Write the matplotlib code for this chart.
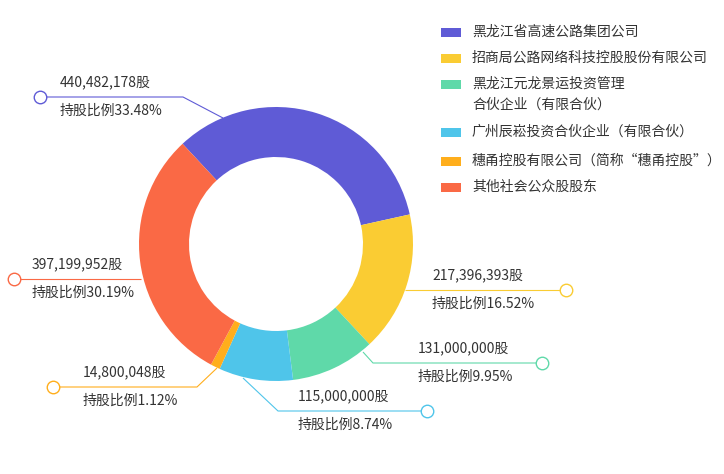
import matplotlib
matplotlib.use('Agg')
import matplotlib.pyplot as plt
from matplotlib.patches import Rectangle

plt.rcParams['font.family'] = ['Noto Sans CJK SC', 'DejaVu Sans']

# Shareholders, share counts and ratios
holders = ['黑龙江省高速公路集团公司', '招商局公路网络科技控股股份有限公司',
           '黑龙江元龙景运投资管理\n合伙企业（有限合伙）', '广州辰崧投资合伙企业（有限合伙）',
           '穗甬控股有限公司（简称“穗甬控股”）', '其他社会公众股股东']
shares = ['440,482,178', '217,396,393', '131,000,000', '115,000,000', '14,800,048', '397,199,952']
ratios = [33.48, 16.52, 9.95, 8.74, 1.12, 30.19]
colors = ['#5f5bd6', '#facc33', '#5fd9a9', '#4fc5ea', '#ffae1c', '#fa6945']

W, H = 724, 474
fig = plt.figure(figsize=(W / 100, H / 100), dpi=100)
ax = fig.add_axes([0, 0, 1, 1])

# donut (pixel coords, y down -> angles mirrored)
cx, cy, r_out, r_in = 276, 244, 137, 87
ax.pie(ratios, colors=colors, center=(cx, cy), radius=r_out,
       startangle=-133, counterclock=True,
       wedgeprops=dict(width=r_out - r_in, linewidth=0))
ax.set_xlim(0, W)
ax.set_ylim(H, 0)
ax.set_aspect('equal')
ax.axis('off')

# leader lines: points from slice edge to end circle, text position
leaders = [
    [(223, 118), (183, 97), (40, 97)],
    [(405, 290), (566, 290)],
    [(363, 352), (373, 363), (542, 363)],
    [(243, 378), (278, 411), (427, 411)],
    [(217, 368), (197, 387), (53, 387)],
    [(141, 279), (14, 279)],
]
text_pos = [(60, 97), (432, 290), (418, 363), (298, 411), (83, 387), (32, 279)]

txt = '#333333'
for i in range(len(ratios)):
    xs = [p[0] for p in leaders[i]]
    ys = [p[1] for p in leaders[i]]
    ax.plot(xs, ys, color=colors[i], lw=0.8, solid_capstyle='butt', zorder=3)
    ax.plot(xs[-1], ys[-1], 'o', ms=9, mfc='white', mec=colors[i], mew=1.0, zorder=4)
    tx, ty = text_pos[i]
    ax.text(tx, ty - 15, shares[i] + '股', fontsize=10, color=txt, ha='left', va='center')
    ax.text(tx, ty + 14, '持股比例' + f'{ratios[i]:.2f}%', fontsize=10, color=txt,
            ha='left', va='center')

# legend
leg_y = [32, 58, 84, 132, 161, 187]
for i, name in enumerate(holders):
    ax.add_patch(Rectangle((441, leg_y[i] - 4.5), 20, 9, color=colors[i], lw=0))
    for j, line in enumerate(name.split('\n')):
        ax.text(472, leg_y[i] + j * 21, line, fontsize=10, color=txt, ha='left', va='center')

fig.savefig('out.png', dpi=100)
